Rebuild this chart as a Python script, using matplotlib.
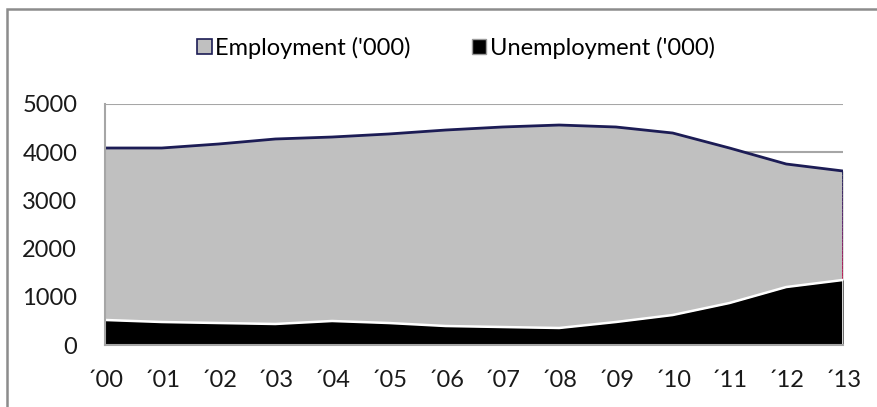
import numpy as np
import matplotlib
matplotlib.use("Agg")
import matplotlib.pyplot as plt
from matplotlib.patches import Patch, Rectangle
from matplotlib.collections import LineCollection

plt.rcParams['font.family'] = ['Lato', 'DejaVu Sans']

years = ["\u00b400", "\u00b401", "\u00b402", "\u00b403", "\u00b404", "\u00b405", "\u00b406",
         "\u00b407", "\u00b408", "\u00b409", "\u00b410", "\u00b411", "\u00b412", "\u00b413"]
employment = [4087, 4087, 4170, 4274, 4315, 4378, 4460, 4523, 4564, 4523, 4398, 4087, 3755, 3610]
unemployment = [519, 477, 456, 436, 498, 456, 394, 373, 353, 477, 622, 871, 1203, 1349]

x = np.arange(len(years))

fig = plt.figure(figsize=(8.77, 4.07), dpi=100)
# outer chart frame
fig.patches.append(Rectangle((7 / 877, -0.1), 1.2, 1 - 9 / 407 + 0.1, transform=fig.transFigure,
                             fill=False, edgecolor="#8c8c8c", linewidth=1.8, zorder=0))

ax = fig.add_axes([105 / 877, 1 - 345 / 407, (843 - 105) / 877, (345 - 104) / 407])

ax.fill_between(x, 0, employment, color="#c0c0c0", linewidth=0, zorder=2)
ax.plot(x, employment, color="#1c1c55", linewidth=2, zorder=3)

# right edge of the employment area, shading from navy into crimson
edge_y = np.linspace(employment[-1], unemployment[-1], 30)
pts = np.column_stack([np.full_like(edge_y, x[-1]), edge_y]).reshape(-1, 1, 2)
segs = np.concatenate([pts[:-1], pts[1:]], axis=1)
cmap = matplotlib.colors.LinearSegmentedColormap.from_list("edge", ["#1c1c55", "#5a1a6a", "#c0104a"])
lc = LineCollection(segs, colors=cmap(np.linspace(0, 1, len(segs))), linewidth=2, zorder=3)
ax.add_collection(lc)

ax.fill_between(x, 0, unemployment, color="black", linewidth=0, zorder=4)
ax.plot(x, unemployment, color="white", linewidth=1.8, zorder=5)
ax.plot([x[-1], x[-1]], [0, unemployment[-1]], color="white", linewidth=1.2, zorder=5)

ax.set_xlim(0, len(years) - 1)
ax.set_ylim(0, 5000)
ax.set_yticks(range(0, 5001, 1000))
ax.set_xticks(x)
ax.set_xticklabels(years)
ax.yaxis.grid(True, color="#a6a6a6", linewidth=1.5, zorder=1)
ax.set_axisbelow(True)
ax.tick_params(axis="both", length=0, labelsize=17, colors="#1a1a1a")
ax.tick_params(axis="y", pad=20)
ax.tick_params(axis="x", pad=18)
for side in ["top", "right"]:
    ax.spines[side].set_visible(False)
for side in ["left", "bottom"]:
    ax.spines[side].set_color("#a6a6a6")
    ax.spines[side].set_linewidth(1.5)
    ax.spines[side].set_zorder(6)

handles = [Patch(facecolor="#c0c0c0", edgecolor="#1c1c55", linewidth=1.2, label="Employment ('000)"),
           Patch(facecolor="black", edgecolor="#9a9a9a", linewidth=1.0, label="Unemployment ('000)")]
fig.legend(handles=handles, loc="center", bbox_to_anchor=(0.52, 0.882), ncol=2, frameon=False,
           fontsize=17, handlelength=0.6, handleheight=0.6, handletextpad=0.15, columnspacing=2.6)

fig.savefig("out.png", dpi=100)
